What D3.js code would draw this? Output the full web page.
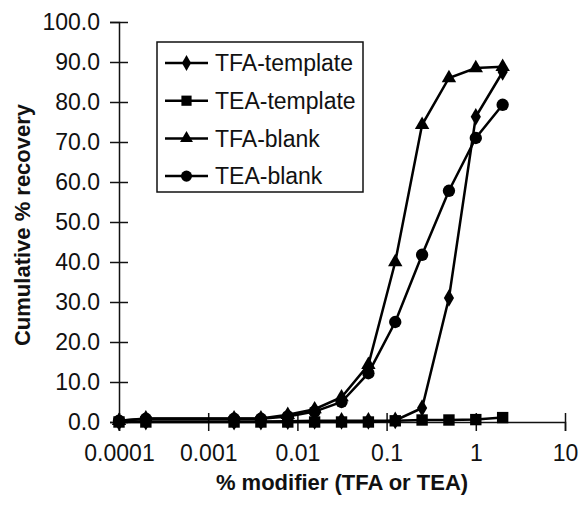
<!DOCTYPE html>
<html>
<head>
<meta charset="utf-8">
<script src="https://cdnjs.cloudflare.com/ajax/libs/d3/7.8.5/d3.min.js"></script>
<style>
  body { margin: 0; background: #fff; }
  svg { font-family: "Liberation Sans", Arial, sans-serif; }
</style>
</head>
<body>
<svg id="chart" width="581" height="509"></svg>
<script>
// data
var modifier = [0.0001, 0.0002, 0.00195, 0.0039, 0.0078, 0.0156, 0.03125, 0.0625, 0.125, 0.25, 0.5, 1, 2];
var tfaTemplate = [0, 0.1, 0.1, 0.1, 0.2, 0.3, 0.3, 0.3, 0.4, 3.5, 31, 76.3, 87.5];
var teaTemplate = [0, 0, 0, 0, 0, 0, 0, 0, 0.3, 0.5, 0.5, 0.6, 1.1];
var tfaBlank = [0.3, 0.9, 0.9, 0.9, 1.8, 3.2, 6.2, 14.3, 40, 74.3, 86, 88.5, 88.8];
var teaBlank = [0.3, 0.8, 0.8, 0.8, 1.4, 2.6, 5, 12.2, 25, 41.8, 57.8, 71, 79.3];
var seriesNames = ["TFA-template", "TEA-template", "TFA-blank", "TEA-blank"];
var xTicks = [0.0001, 0.001, 0.01, 0.1, 1, 10];
var yTicks = [0, 10, 20, 30, 40, 50, 60, 70, 80, 90, 100];

var series = [
  { name: seriesNames[0], values: tfaTemplate, sym: d3.symbolDiamond, size: 90 },
  { name: seriesNames[1], values: teaTemplate, sym: d3.symbolSquare, size: 130 },
  { name: seriesNames[2], values: tfaBlank, sym: d3.symbolTriangle, size: 90 },
  { name: seriesNames[3], values: teaBlank, sym: d3.symbolCircle, size: 120 }
];

var svg = d3.select('#chart');
var x = d3.scaleLog().domain([0.0001, 10]).range([119, 565]);
var y = d3.scaleLinear().domain([0, 100]).range([422, 22]);

// y axis
var yAxis = svg.append('g')
  .attr('transform', 'translate(' + x(0.0001) + ',0)')
  .call(d3.axisLeft(y).tickValues(yTicks).tickFormat(d3.format('.1f')).tickSize(9).tickPadding(10));
yAxis.select('.domain').attr('stroke', '#111').attr('stroke-width', 1.5);
yAxis.selectAll('.tick line').attr('x1', 9).attr('x2', -9).attr('stroke', '#111').attr('stroke-width', 1.5);
yAxis.selectAll('.tick text').attr('font-size', 23).attr('fill', '#111').attr('font-family', null);

// x axis
var xAxis = svg.append('g')
  .attr('transform', 'translate(0,' + y(0) + ')')
  .call(d3.axisBottom(x).tickValues(xTicks).tickFormat(function(d) { return String(d); }).tickSize(9).tickPadding(14));
xAxis.select('.domain').attr('stroke', '#111').attr('stroke-width', 1.5);
xAxis.selectAll('.tick line').attr('y1', -9).attr('y2', 9).attr('stroke', '#111').attr('stroke-width', 1.5);
xAxis.selectAll('.tick text').attr('font-size', 23).attr('fill', '#111').attr('font-family', null);

// axis titles
svg.append('text')
  .attr('x', 342).attr('y', 490)
  .attr('text-anchor', 'middle')
  .attr('font-size', 22).attr('font-weight', 'bold').attr('fill', '#111')
  .text('% modifier (TFA or TEA)');
svg.append('text')
  .attr('transform', 'translate(30,225) rotate(-90)')
  .attr('text-anchor', 'middle')
  .attr('font-size', 22).attr('font-weight', 'bold').attr('fill', '#111')
  .text('Cumulative % recovery');

// lines and markers
var line = d3.line()
  .x(function(d, i) { return x(modifier[i]); })
  .y(function(d) { return y(d); });

series.forEach(function(s) {
  svg.append('path')
    .attr('d', line(s.values))
    .attr('fill', 'none')
    .attr('stroke', '#000')
    .attr('stroke-width', 2.5);
  svg.selectAll(null)
    .data(s.values)
    .enter().append('path')
    .attr('transform', function(d, i) { return 'translate(' + x(modifier[i]) + ',' + y(d) + ')'; })
    .attr('d', d3.symbol().type(s.sym).size(s.size))
    .attr('fill', '#000');
});

// legend
var legend = svg.append('g');
legend.append('rect')
  .attr('x', 157).attr('y', 42).attr('width', 206).attr('height', 150)
  .attr('fill', '#fff').attr('stroke', '#111').attr('stroke-width', 1.5);
var rows = legend.selectAll('.row')
  .data(series)
  .enter().append('g')
  .attr('class', 'row')
  .attr('transform', function(d, i) { return 'translate(0,' + (63 + i * 37.7) + ')'; });
rows.append('line')
  .attr('x1', 165).attr('x2', 208).attr('y1', 0).attr('y2', 0)
  .attr('stroke', '#000').attr('stroke-width', 2.5);
rows.append('path')
  .attr('transform', 'translate(186.5,0)')
  .attr('d', function(d) { return d3.symbol().type(d.sym).size(d.size * 0.8)(); })
  .attr('fill', '#000');
rows.append('text')
  .attr('x', 215).attr('y', 0).attr('dy', '0.36em')
  .attr('font-size', 23).attr('fill', '#111')
  .text(function(d) { return d.name; });
</script>
</body>
</html>
